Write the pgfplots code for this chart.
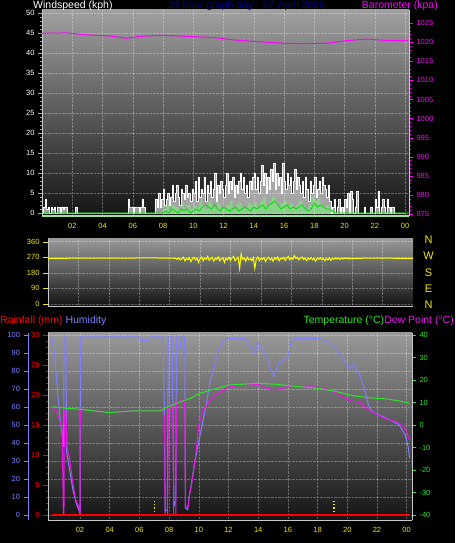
\documentclass[border=0pt]{standalone}
\usepackage{pgfplots}
\pgfplotsset{compat=1.18}
\usepackage{fontspec}
\setmainfont{Liberation Sans}

\definecolor{humid}{RGB}{128,128,255}
\definecolor{dkblue}{RGB}{0,0,150}
\definecolor{ylw}{RGB}{235,235,0}
\definecolor{tempg}{RGB}{40,230,40}
\definecolor{dewm}{RGB}{235,20,235}
\definecolor{mag}{RGB}{255,0,255}
\definecolor{rd}{RGB}{255,0,0}
\definecolor{frm}{RGB}{200,200,200}
\definecolor{lgreen}{RGB}{150,230,150}

\pgfplotsset{
  panel/.style={
    scale only axis, anchor=south west,
    tick align=outside, major tick length=4pt, minor tick length=2pt,
    tick label style={font=\fontsize{7.5}{9}\selectfont},
    /pgf/number format/assume math mode=true,
    /pgf/number format/1000 sep={},
  },
  bgshade/.style={axis background/.style={top color=#1, bottom color=black!92}},
  softgrid/.style={grid=major, grid style={white, opacity=0.3, densely dotted}},
}
\newcommand\ttl{\fontsize{10.5}{12}\selectfont}

\begin{document}
\begin{tikzpicture}
\useasboundingbox (0,0) rectangle (455pt,543pt);
\fill[black] (0,0) rectangle (455pt,543pt);

% ---------- wind speed ----------
\begin{axis}[panel, at={(42pt,327pt)}, width=367pt, height=206pt,
  xmin=0, xmax=24.26, ymin=-0.75, ymax=50.75,
  bgshade=gray!75,
  axis x line*=bottom, axis y line*=left,
  x axis line style={draw=lgreen, line width=1.5pt},
  y axis line style={draw=frm},
  xtick={2,4,...,24}, xticklabels={02,04,06,08,10,12,14,16,18,20,22,00},
  x tick style={draw=none}, x tick label style={ylw},
  ytick={0,5,...,50}, minor y tick num=4,
  y tick style={gray!70}, y tick label style={white},
  softgrid,
]
\addplot[const plot, draw=white, line width=0.5pt, fill=white, fill opacity=0.6]
  table[header=false, row sep=\\, x expr=\coordindex*0.1, y index=0] {
0\\1.5\\3.5\\1\\1.5\\0\\1.5\\1\\1.5\\0\\1.5\\1.5\\0\\1.5\\1\\1.5\\1.5\\
0\\0\\0\\0\\0\\1.5\\
0\\0\\0\\0\\0\\0\\0\\0\\0\\0\\0\\0\\0\\0\\0\\0\\0\\0\\0\\0\\0\\0\\0\\0\\0\\0\\0\\0\\0\\0\\0\\0\\0\\
0\\3.5\\1.5\\1.5\\0\\1.5\\1.5\\1.5\\0\\1.5\\3.5\\1.5\\0\\0\\0\\0\\0\\0\\0\\
3.5\\1.5\\5\\1.5\\3.5\\
6\\2\\3.5\\5\\2\\4\\7\\3\\5\\7\\4\\2\\6\\5\\3.5\\7\\4\\5\\3\\6\\
5\\8\\3\\9\\4\\6\\5\\9\\3\\7\\5\\8\\4\\6\\10\\3\\7\\5\\8\\6\\
4\\7\\10\\5\\8\\6\\9\\4\\7\\5\\8\\10\\6\\9\\5\\7\\4\\8\\6\\9\\
10\\6\\9\\5\\8\\12\\7\\10\\5\\9\\6\\11\\8\\12.5\\6\\10\\7\\9\\5\\12.5\\8\\6\\10\\7\\9\\5\\8\\11\\6\\9\\
7\\5\\8\\4\\9\\6\\3\\8\\5\\7\\9\\4\\6\\8\\5\\9\\7\\6\\4\\7\\
3\\0\\1.5\\3.5\\0\\1.5\\3.5\\0\\1.5\\0\\
3.5\\1.5\\5\\0\\5.5\\3.5\\0\\1.5\\5.5\\0\\
0\\0\\0\\1.5\\0\\0\\0\\1.5\\0\\0\\
3.5\\1.5\\5.5\\0\\1.5\\3.5\\1.5\\0\\3.5\\1.5\\
0\\1.5\\1.5\\0\\0\\0\\0\\0\\0\\0\\0\\
} \closedcycle;
% wind speed (light green area)
\addplot[const plot, draw=none, fill=green!55!white, fill opacity=0.5] coordinates {
(0,0)(7.9,0)
(8.0,1)(8.2,2)(8.4,0.5)(8.6,2)(8.8,1.5)(9.0,1)(9.2,2.5)(9.4,1)(9.6,2)(9.8,1)
(10.0,2)(10.2,1.5)(10.4,3)(10.6,2)(10.8,1)(11.0,3)(11.2,2)(11.4,1.5)(11.6,2.5)(11.8,1)
(12.0,1.5)(12.2,2)(12.4,3)(12.6,1)(12.8,2)(13.0,2.5)(13.2,1.5)(13.4,1)(13.6,2.5)(13.8,2)
(14.0,2.5)(14.2,1.5)(14.4,3)(14.6,4)(14.8,2)(15.0,3)(15.2,4)(15.4,3)(15.6,2)(15.8,2.5)
(16.0,3)(16.2,2)(16.4,2.5)(16.6,1.5)(16.8,2)(17.0,3)(17.2,2)(17.4,1)(17.6,2)(17.8,4)
(18.0,3)(18.2,3.5)(18.4,2)(18.6,1.5)(18.8,2)(19.0,1)(19.2,0.5)(19.4,0)(24,0)
} \closedcycle;
% average wind speed
\addplot[color={rgb,255:red,0;green,220;blue,0}, line width=0.8pt] coordinates {
(0,0)(8,0)
(8.2,0.5)(8.4,0)(8.6,1)(8.8,0.5)(9.0,0)(9.2,1)(9.4,0.5)(9.6,1)(9.8,0)
(10.0,0.5)(10.2,1)(10.4,0.5)(10.6,1.5)(10.8,2)(11.0,1.5)(11.2,1)(11.4,2)(11.6,1)(11.8,0.5)
(12.0,1.5)(12.2,1)(12.4,0.5)(12.6,1)(12.8,1.5)(13.0,0.5)(13.2,1)(13.4,1.5)(13.6,1)(13.8,0.5)
(14.0,1.5)(14.2,1)(14.4,1.5)(14.6,2)(14.8,1)(15.0,2)(15.2,2.5)(15.4,3)(15.6,2)(15.8,1)
(16.0,1.5)(16.2,2)(16.4,1)(16.6,1.5)(16.8,1)(17.0,1.5)(17.2,2)(17.4,1)(17.6,0.5)(17.8,1)
(18.0,2.5)(18.2,1.5)(18.4,2)(18.6,1.5)(18.8,1)(19.0,1)(19.2,0.5)(19.4,0)(24.3,0)
};
\end{axis}

% ---------- barometer ----------
\begin{axis}[panel, at={(42pt,327pt)}, width=367pt, height=206pt,
  xmin=0, xmax=24.26, ymin=974.5, ymax=1028.4,
  axis x line=none, axis y line*=right,
  y axis line style={draw=frm},
  ytick={975,980,...,1025}, minor y tick num=4,
  y tick style={mag}, y tick label style={mag},
]
\addplot[mag, line width=1pt] coordinates {
(0,1022.3)(1.63,1022.4)(2.95,1021.9)(4.5,1021.6)(5.6,1021.0)(6.5,1021.5)
(8,1021.8)(9.56,1021.5)(11.3,1021.2)(12.6,1020.6)(13.95,1020.2)(15.95,1019.7)
(17.1,1019.6)(18.8,1019.7)(20.2,1020.4)(21.5,1020.8)(22.8,1020.4)(24.2,1020.4)
};
\end{axis}

% ---------- wind direction ----------
\begin{axis}[panel, at={(48pt,237pt)}, width=365pt, height=67pt,
  xmin=0, xmax=24, ymin=-11.6, ymax=375.6,
  bgshade=gray!80,
  axis x line*=bottom, axis y line*=left,
  axis line style={draw=frm},
  xtick={2,4,...,22}, xticklabels={}, x tick style={draw=none},
  ytick={0,90,180,270,360}, major tick length=5pt,
  y tick style={ylw}, y tick label style={ylw},
  softgrid,
]
\addplot[color={rgb,255:red,255;green,255;blue,0}, line width=1pt] coordinates {
(0,263)(1,264)(2,265)(3,265)(4,265)(5,265)(6,266)(7,266)(8,265)(8.4,264)
(8.5,258)(8.6,266)(8.7,255)(8.8,262)(8.9,270)(9.0,250)(9.1,264)(9.2,256)(9.3,268)(9.4,245)(9.5,262)
(9.6,270)(9.7,255)(9.8,265)(9.9,240)(10.0,262)(10.1,272)(10.2,250)(10.3,266)(10.4,258)(10.5,275)
(10.6,252)(10.7,262)(10.8,270)(10.9,248)(11.0,265)(11.1,258)(11.2,272)(11.3,250)(11.4,262)(11.5,268)
(11.6,240)(11.7,265)(11.8,255)(11.9,270)(12.0,252)(12.1,266)(12.2,275)(12.3,250)(12.4,262)(12.5,270)
(12.6,205)(12.7,290)(12.8,258)(12.9,265)(13.0,248)(13.1,270)(13.2,255)(13.3,262)(13.4,250)(13.5,268)
(13.6,205)(13.7,262)(13.8,272)(13.9,250)(14.0,265)(14.1,258)(14.2,268)(14.3,245)(14.4,262)(14.5,270)
(14.6,255)(14.7,265)(14.8,248)(14.9,268)(15.0,258)(15.1,272)(15.2,250)(15.3,265)(15.4,260)(15.5,270)
(15.6,252)(15.7,265)(15.8,275)(15.9,255)(16.0,268)(16.1,258)(16.2,280)(16.3,262)(16.4,270)(16.5,255)
(16.6,265)(16.7,272)(16.8,258)(16.9,266)(17.0,250)(17.1,265)(17.2,258)(17.3,268)(17.4,255)(17.5,263)
(17.6,248)(17.7,265)(17.8,258)(17.9,268)(18.0,256)(18.1,264)(18.2,250)(18.3,262)(18.4,255)(18.5,266)
(18.6,252)(18.7,264)(18.8,258)(18.9,266)(19.0,260)(19.1,266)(19.2,258)(19.3,265)(19.4,260)(19.5,266)
(19.6,262)(19.7,266)(19.8,260)(19.9,265)(20.0,262)
(20.5,264)(21,265)(22,265)(23,264)(24,264)
};
\end{axis}

% ---------- humidity (plot area, background, grid) ----------
\begin{axis}[panel, at={(48pt,23pt)}, width=364pt, height=187pt,
  xmin=-0.155, xmax=24.36, ymin=-2.78, ymax=101.11,
  bgshade=gray!80,
  axis x line*=bottom, axis y line*=left,
  axis line style={draw=frm},
  xtick={2,4,...,24}, xticklabels={02,04,06,08,10,12,14,16,18,20,22,00},
  x tick style={draw=none}, x tick label style={ylw},
  ytick={0,10,...,100}, yticklabels={}, y tick style={draw=none},
  softgrid,
]
\addplot[humid, line width=1pt] coordinates {
(0.1,99)(0.3,88)(0.5,68)(0.7,50)(0.9,38)(0.93,99)(1.05,99)(1.1,35)(1.3,25)(1.5,15)
(1.7,8)(1.9,3)(2.0,2)(2.03,99)(2.5,99)(4,99)(5.5,99)(6.0,99)(6.1,97)(6.6,97)(6.7,99)
(7.6,99)(7.68,60)(7.74,2)(7.88,3)(7.95,99)(8.2,99)(8.28,40)(8.33,5)(8.45,8)(8.5,99)
(8.7,99)(8.75,92)(8.85,99)(9.05,99)(9.1,4)(9.25,3)(9.35,10)(9.5,17)(9.7,28)(9.86,35)
(10.08,44)(10.4,57)(10.6,66)(10.76,74)(11.0,81)(11.3,91)(11.65,97)(12.0,98)(13.1,98)
(13.45,94)(13.8,90)(14.0,95.5)(14.25,92)(14.6,87)(14.8,82)(15.05,77)(15.2,80)(15.4,84.5)
(15.7,86)(16.0,88)(16.2,95.5)(16.45,98)(18.1,98)(18.6,97)(19.3,92)(19.85,85)(20.2,81.5)
(20.4,84)(20.85,78)(21.2,68.5)(21.5,59)(21.85,56.5)(22.4,54.6)(23.1,52)(23.5,50)
(23.9,44.5)(24.1,38)(24.2,31.5)
};
\end{axis}

% ---------- temperature and dew point ----------
\begin{axis}[panel, at={(48pt,23pt)}, width=364pt, height=187pt,
  xmin=-0.155, xmax=24.36, ymin=-42.22, ymax=40.89,
  axis x line=none, axis y line*=right,
  y axis line style={draw=frm},
  ytick={-40,-30,...,40},
  y tick style={tempg}, y tick label style={tempg},
]
\addplot[dewm, line width=1pt] coordinates {
(0.1,8)(0.4,6.5)(0.6,3)(0.8,-2)(0.88,-40)(0.92,-40)(0.95,7)(1.05,7)(1.12,-10)(1.3,-15)
(1.5,-25)(1.7,-33)(1.9,-36)(2.0,-40)(2.02,7)(3,6.2)(4,5.5)(5,6)(5.6,6.3)(7.4,6.3)
(7.6,6.3)(7.7,3)(7.73,-40)(7.9,-40)(7.95,8)(8.25,9.5)(8.3,-40)(8.45,-40)(8.5,10)
(9.05,11.5)(9.1,-36)(9.3,-36)(9.35,-32)(9.55,-25)(9.8,-13)(10.0,0)(10.25,6)(10.6,9.6)
(11.0,12.6)(11.5,14.8)(12.1,17)(12.9,17.8)(14.0,18.1)(14.6,16.3)(15.05,15.6)(15.7,16.3)
(16.3,17.6)(18.1,16.7)(18.8,15.6)(19.5,13.3)(20.2,10.7)(20.85,10.1)(21.3,7.4)(21.85,5.2)
(22.4,3.3)(23.1,1.8)(23.4,1.0)(23.8,-0.7)(24.0,-3)(24.2,-6.7)
};
\addplot[tempg, line width=1pt] coordinates {
(0.1,8.1)(1,7.5)(2.0,7.0)(3,6.2)(4.0,5.5)(5,6)(5.6,6.3)(7.4,6.3)(7.8,7.8)(8.7,10.1)
(9.5,12)(10.08,14.1)(11,15.9)(11.76,17.2)(12.1,17.8)(12.9,18.1)(14.0,18.5)(15.2,18.1)
(16.3,17.3)(18.1,16.3)(19.3,14.8)(20.4,13)(21.5,12.1)(22.6,11.6)(23.5,10.7)(24.2,9.6)
};
\end{axis}

% ---------- rainfall ----------
\begin{axis}[panel, at={(48pt,23pt)}, width=364pt, height=187pt,
  xmin=-0.155, xmax=24.36, ymin=-0.833, ymax=30.33,
  axis x line=none, axis y line*=left,
  y axis line style={draw=frm},
  ytick={0,5,...,30}, minor y tick num=4, major tick length=5pt,
  y tick style={rd}, y tick label style={rd},
]
\addplot[ycomb, ylw, dotted, line width=1.2pt] coordinates {(7.0,2.6)(19.1,2.6)};
\addplot[rd, line width=2pt] coordinates {(0.1,0)(24.2,0)};
\end{axis}

% ---------- humidity scale ----------
\begin{axis}[panel, at={(28.5pt,23pt)}, width=1pt, height=187pt,
  xmin=0, xmax=1, ymin=-2.78, ymax=101.11,
  axis x line=none, axis y line*=left,
  y axis line style={draw=humid, line width=1.2pt},
  ytick={0,10,...,100}, major tick length=5pt,
  y tick style={humid}, y tick label style={humid},
]
\addplot[draw=none] coordinates {(0,0)};
\end{axis}

% ---------- texts ----------
\begin{scope}[every node/.style={inner sep=0pt, font=\ttl}]
\node[anchor=base west, white] at (33pt,534pt) {Windspeed (kph)};
\node[anchor=base, dkblue] at (246.5pt,534pt) {24 hour graph day : 07 April 2026};
\node[anchor=base east, mag] at (438pt,534pt) {Barometer (kpa)};
\node[anchor=base west] at (0pt,219pt) {\textcolor{rd}{Rainfall (mm)} \textcolor{humid}{Humidity}};
\node[anchor=base east] at (454pt,219pt) {\textcolor{tempg}{Temperature (°C)}\textcolor{dewm}{Dew Point (°C)}};
\end{scope}
\begin{scope}[every node/.style={inner sep=0pt, font=\fontsize{11}{12}\selectfont, ylw}]
\node at (428.5pt,303pt) {N};
\node at (428.5pt,287pt) {W};
\node at (428.5pt,270pt) {S};
\node at (428.5pt,254pt) {E};
\node at (428.5pt,238pt) {N};
\end{scope}
\end{tikzpicture}
\end{document}
